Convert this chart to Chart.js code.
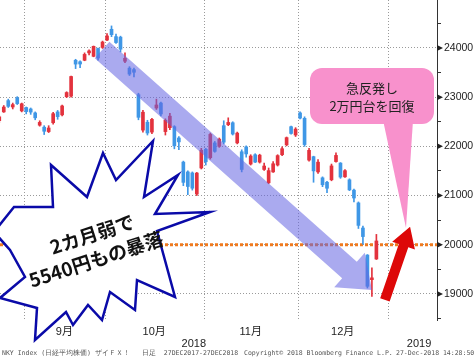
<!DOCTYPE html>
<html>
<head>
<meta charset="utf-8">
<script src="https://cdn.jsdelivr.net/npm/chart.js@4.4.0/dist/chart.umd.min.js"></script>
<style>
  html, body { margin: 0; padding: 0; background: #fff; }
</style>
</head>
<body>
<canvas id="nkyChart" width="476" height="361"></canvas>
<script>
// trading days shown (last two have no candle yet)
var dates = [
  '2018-08-24','2018-08-27','2018-08-28','2018-08-29','2018-08-30','2018-08-31',
  '2018-09-03','2018-09-04','2018-09-05','2018-09-06','2018-09-07','2018-09-10','2018-09-11','2018-09-12','2018-09-13',
  '2018-09-14','2018-09-18','2018-09-19','2018-09-20','2018-09-21','2018-09-25','2018-09-26','2018-09-27','2018-09-28',
  '2018-10-01','2018-10-02','2018-10-03','2018-10-04','2018-10-05','2018-10-09','2018-10-10','2018-10-11','2018-10-12',
  '2018-10-15','2018-10-16','2018-10-17','2018-10-18','2018-10-19','2018-10-22','2018-10-23','2018-10-24','2018-10-25',
  '2018-10-26','2018-10-29','2018-10-30','2018-10-31',
  '2018-11-01','2018-11-02','2018-11-05','2018-11-06','2018-11-07','2018-11-08','2018-11-09','2018-11-12','2018-11-13',
  '2018-11-14','2018-11-15','2018-11-16','2018-11-19','2018-11-20','2018-11-21','2018-11-22','2018-11-26','2018-11-27',
  '2018-11-28','2018-11-29','2018-11-30',
  '2018-12-03','2018-12-04','2018-12-05','2018-12-06','2018-12-07','2018-12-10','2018-12-11','2018-12-12','2018-12-13',
  '2018-12-14','2018-12-17','2018-12-18','2018-12-19','2018-12-20','2018-12-21','2018-12-25','2018-12-26','2018-12-27',
  '2018-12-28','2018-12-31'
];

var openPrices = [
  22520, 22700, 22930, 22800, 22990, 22720,
  22790, 22760, 22680, 22430, 22390, 22300, 22480, 22700, 22640, 23010, 23020, 23750, 23720, 23750, 23900, 23830, 23990, 24010,
  24160, 24380, 24230, 24220, 23730, 23590, 23560, 23050, 22330, 22490, 22290, 22780, 22880, 22300, 22380, 22400, 22170, 21680,
  21480, 21460, 21030, 21560,
  21940, 21770, 22070, 22000, 22420, 22440, 22480, 22070, 21890, 21990, 21640, 21830, 21680, 21530, 21260, 21480, 21620, 21830,
  22030, 22400, 22230,
  22680, 22570, 21720, 21790, 21480, 21360, 21270, 21320, 21690, 21660, 21380, 21320, 21110, 20850, 20340, 19790, 19290, 19710
];
var highPrices = [
  22620, 22830, 22960, 22880, 23010, 22880,
  22800, 22780, 22700, 22520, 22420, 22420, 22690, 22730, 22840, 23110, 23430, 23770, 23740, 23900, 23960, 24040, 24000, 24140,
  24290, 24448, 24280, 24240, 23900, 23620, 23590, 23080, 22730, 22530, 22570, 22960, 22900, 22560, 22670, 22420, 22200, 21700,
  21500, 21480, 21470, 21960,
  21960, 22270, 22100, 22170, 22520, 22580, 22500, 22290, 21930, 22010, 21830, 21850, 21840, 21660, 21560, 21690, 21830, 21990,
  22190, 22410, 22380,
  22700, 22600, 21960, 21800, 21730, 21380, 21290, 21640, 21870, 21670, 21530, 21340, 21130, 20870, 20380, 19800, 19530, 20210
];
var lowPrices = [
  22480, 22690, 22790, 22760, 22850, 22700,
  22660, 22650, 22540, 22410, 22240, 22280, 22450, 22550, 22620, 22990, 23000, 23580, 23600, 23740, 23860, 23820, 23750, 23990,
  24150, 24230, 24090, 23920, 23700, 23440, 23410, 22540, 22290, 22230, 22260, 22750, 22620, 22230, 22340, 21950, 21930, 21200,
  21020, 21110, 21000, 21540,
  21620, 21740, 21880, 21980, 22050, 22420, 22230, 22050, 21480, 21780, 21620, 21670, 21660, 21510, 21240, 21470, 21600, 21810,
  22010, 22250, 22200,
  22560, 22000, 21700, 21270, 21450, 21180, 21060, 21300, 21680, 21350, 21370, 21100, 20870, 20330, 20010, 19120, 18950, 19700
];
var closePrices = [
  22601, 22799, 22813, 22848, 22869, 22865,
  22707, 22697, 22580, 22487, 22307, 22373, 22664, 22604, 22821, 23094, 23420, 23672, 23674, 23869, 23940, 24033, 23796, 24120,
  24245, 24270, 24110, 23975, 23790, 23469, 23506, 22590, 22694, 22271, 22549, 22841, 22658, 22532, 22614, 22010, 22091, 21268,
  21184, 21149, 21457, 21920,
  21687, 22243, 21898, 22147, 22085, 22486, 22250, 22269, 21530, 21846, 21803, 21680, 21821, 21600, 21507, 21646, 21812, 21952,
  22177, 22262, 22351,
  22574, 22036, 21919, 21501, 21679, 21219, 21148, 21602, 21816, 21375, 21506, 21115, 20950, 20393, 20166, 19155, 19327, 20077
];

var yTickValues = [18500, 19000, 19500, 20000, 20500, 21000, 21500, 22000, 22500, 23000, 23500, 24000, 24500];
var supportLevel = 20000;
var yMin = 18470, yMax = 24975;
var xMin = 0.16, xMax = 97.5;

var upColor = '#e3323d';
var downColor = '#3f97e6';
var gridColor = '#9a9a9a';

// month boundaries and label positions from the dates
var monthBounds = [];
var monthOf = function(d) { return parseInt(d.substr(5, 2), 10); };
for (var i = 1; i < dates.length; i++) {
    if (monthOf(dates[i]) !== monthOf(dates[i - 1])) monthBounds.push({ at: i - 0.5, month: monthOf(dates[i]) });
}
var lastBound = dates.length - 0.5;
var xTicks = [];
monthBounds.forEach(function(b, k) {
    var end = k + 1 < monthBounds.length ? monthBounds[k + 1].at : lastBound;
    xTicks.push({ value: (b.at + end) / 2, label: b.month + '月' });
});
xTicks.push({ value: (xMin + lastBound) / 2, label: ['', '2018'] });
xTicks.push({ value: (lastBound + xMax) / 2 + 1.5, label: ['', '2019'] });
xTicks.sort(function(a, b) { return a.value - b.value; });
var gridBounds = monthBounds.map(function(b) { return b.at; }).concat([lastBound]);

var bodies = [], wicks = [], barColors = [];
for (var j = 0; j < closePrices.length; j++) {
    bodies.push({ x: j, y: [openPrices[j], closePrices[j]] });
    wicks.push({ x: j, y: [lowPrices[j], highPrices[j]] });
    barColors.push(closePrices[j] >= openPrices[j] ? upColor : downColor);
}

function blockArrow(g, x0, y0, x1, y1, sh, hh, hl, color) {
    var len = Math.sqrt((x1 - x0) * (x1 - x0) + (y1 - y0) * (y1 - y0));
    var ux = (x1 - x0) / len, uy = (y1 - y0) / len;
    var px = -uy, py = ux;
    var bx = x1 - ux * hl, by = y1 - uy * hl;
    g.beginPath();
    g.moveTo(x0 + px * sh, y0 + py * sh);
    g.lineTo(bx + px * sh, by + py * sh);
    g.lineTo(bx + px * hh, by + py * hh);
    g.lineTo(x1, y1);
    g.lineTo(bx - px * hh, by - py * hh);
    g.lineTo(bx - px * sh, by - py * sh);
    g.lineTo(x0 - px * sh, y0 - py * sh);
    g.closePath();
    g.fillStyle = color;
    g.fill();
}

var starPoints = [
    [14, 207], [53, 207], [51, 165], [87, 197], [103, 153], [116, 180], [153, 141], [144, 197], [178, 175],
    [155, 214], [210, 212], [157, 231], [175, 297], [137, 280], [135, 310], [110, 292], [102, 320], [88, 305],
    [73, 325], [66, 312], [35, 340], [37, 308], [0, 298], [25, 277], [10, 250], [-6, 232]
];

var overlays = {
    id: 'overlays',
    beforeDatasetsDraw: function(chart) {
        var g = chart.ctx, xs = chart.scales.x, ys = chart.scales.y, a = chart.chartArea;
        g.save();
        // month separators, dotted
        g.fillStyle = gridColor;
        gridBounds.forEach(function(b) {
            var gx = Math.round(xs.getPixelForValue(b));
            for (var yy = Math.round(a.top); yy < a.bottom; yy += 3) {
                g.fillRect(gx, yy, 1, 1);
            }
        });
        // 20000 line
        var y = ys.getPixelForValue(supportLevel);
        g.strokeStyle = '#ef7a1f';
        g.lineWidth = 3;
        g.setLineDash([3, 2]);
        g.beginPath();
        g.moveTo(a.left, y);
        g.lineTo(a.right, y);
        g.stroke();
        g.restore();
    },
    afterDatasetsDraw: function(chart) {
        var g = chart.ctx, xs = chart.scales.x, ys = chart.scales.y, a = chart.chartArea;
        g.save();
        // big blue down arrow, from the October top to the December low
        blockArrow(g, xs.getPixelForValue(22.9), ys.getPixelForValue(23960),
            xs.getPixelForValue(83), ys.getPixelForValue(19080), 11, 23, 30, 'rgba(100,100,226,0.55)');

        // starburst
        g.beginPath();
        starPoints.forEach(function(p, k) {
            if (k === 0) g.moveTo(a.left + p[0], a.top + p[1]);
            else g.lineTo(a.left + p[0], a.top + p[1]);
        });
        g.closePath();
        g.fillStyle = '#ffffff';
        g.fill();
        g.lineWidth = 2.5;
        g.lineJoin = 'miter';
        g.strokeStyle = '#0a0aa8';
        g.stroke();

        g.save();
        g.translate(a.left + 92, a.top + 247);
        g.rotate(-18 * Math.PI / 180);
        g.fillStyle = '#111';
        g.font = 'bold 19px "Noto Sans CJK JP"';
        g.textAlign = 'center';
        g.textBaseline = 'middle';
        g.fillText('2カ月弱で', 4, -12);
        g.fillText('5540円もの暴落', 0, 13);
        g.restore();

        // pink callout
        g.fillStyle = '#f891cc';
        g.beginPath();
        g.roundRect(a.left + 310, a.top + 68, 124, 56, 12);
        g.fill();
        g.beginPath();
        g.moveTo(a.left + 383, a.top + 120);
        g.lineTo(a.left + 413, a.top + 120);
        g.lineTo(a.left + 406, a.top + 228);
        g.closePath();
        g.fill();
        g.fillStyle = '#222';
        g.font = '13px "Noto Sans CJK JP"';
        g.textAlign = 'center';
        g.textBaseline = 'middle';
        g.fillText('急反発し', a.left + 372, a.top + 88);
        g.fillText('2万円台を回復', a.left + 372, a.top + 106);

        // red rebound arrow
        blockArrow(g, xs.getPixelForValue(85.9), ys.getPixelForValue(18878),
            xs.getPixelForValue(91.5), ys.getPixelForValue(20366), 5, 12, 20, '#dd0808');
        g.restore();
    },
    afterDraw: function(chart) {
        var g = chart.ctx, ys = chart.scales.y, a = chart.chartArea;
        g.save();
        g.fillStyle = '#222';
        yTickValues.forEach(function(v) {
            if (v % 1000 !== 0) return;
            var y = ys.getPixelForValue(v);
            g.beginPath();
            g.moveTo(a.right, y - 3);
            g.lineTo(a.right + 6, y);
            g.lineTo(a.right, y + 3);
            g.closePath();
            g.fill();
        });
        g.fillStyle = '#555';
        g.font = '6.5px "DejaVu Sans Mono"';
        g.textBaseline = 'middle';
        g.textAlign = 'left';
        g.fillText('NKY Index (日経平均株価) ザイＦＸ！', 2, 353);
        g.fillText('日足  27DEC2017-27DEC2018', 142, 353);
        g.fillText('Copyright© 2018 Bloomberg Finance L.P.', 244, 353);
        g.fillText('27-Dec-2018 14:28:50', 396, 353);
        g.restore();
    }
};

var chartCtx = document.getElementById('nkyChart').getContext('2d');
var nkyChart = new Chart(chartCtx, {
    type: 'bar',
    data: {
        datasets: [{
            label: 'body',
            data: bodies,
            backgroundColor: barColors,
            barThickness: 3,
            grouped: false,
            borderWidth: 0
        }, {
            label: 'wick',
            data: wicks,
            backgroundColor: barColors,
            barThickness: 1,
            grouped: false,
            borderWidth: 0
        }]
    },
    options: {
        responsive: false,
        devicePixelRatio: 1,
        animation: false,
        layout: { padding: { left: 0, right: 0, top: 0, bottom: 8 } },
        plugins: {
            legend: { display: false },
            tooltip: { enabled: false },
            title: { display: false }
        },
        scales: {
            x: {
                type: 'linear',
                offset: false,
                min: xMin,
                max: xMax,
                afterBuildTicks: function(axis) {
                    axis.ticks = xTicks.map(function(t) { return { value: t.value }; });
                },
                afterFit: function(axis) {
                    axis.height = 33;
                    axis.paddingLeft = 0; axis.paddingRight = 0;
                    axis.paddingTop = 0; axis.paddingBottom = 0;
                },
                ticks: {
                    autoSkip: false,
                    maxRotation: 0,
                    minRotation: 0,
                    padding: 6,
                    color: '#222',
                    font: { family: '"Liberation Sans", "Noto Sans CJK JP"', size: 11, lineHeight: '12px' },
                    callback: function(value, index) { return xTicks[index] ? xTicks[index].label : ''; }
                },
                grid: { display: false, offset: false, drawTicks: false },
                border: { display: false }
            },
            y: {
                position: 'right',
                min: yMin,
                max: yMax,
                afterBuildTicks: function(axis) {
                    axis.ticks = yTickValues.map(function(v) { return { value: v }; });
                },
                afterFit: function(axis) {
                    axis.width = 39;
                    axis.paddingLeft = 0; axis.paddingRight = 0;
                    axis.paddingTop = 0; axis.paddingBottom = 0;
                },
                ticks: {
                    padding: 3,
                    color: '#222',
                    font: { family: '"Liberation Sans"', size: 10.5 },
                    callback: function(value) { return value % 1000 === 0 ? String(value) : ''; }
                },
                grid: {
                    tickLength: 4,
                    tickColor: '#333',
                    color: function(c) {
                        return c.tick && c.tick.value % 1000 === 0 ? gridColor : 'rgba(0,0,0,0)';
                    }
                },
                border: { display: true, color: '#333', width: 1, dash: [1, 2] }
            }
        }
    },
    plugins: [overlays]
});
</script>
</body>
</html>
